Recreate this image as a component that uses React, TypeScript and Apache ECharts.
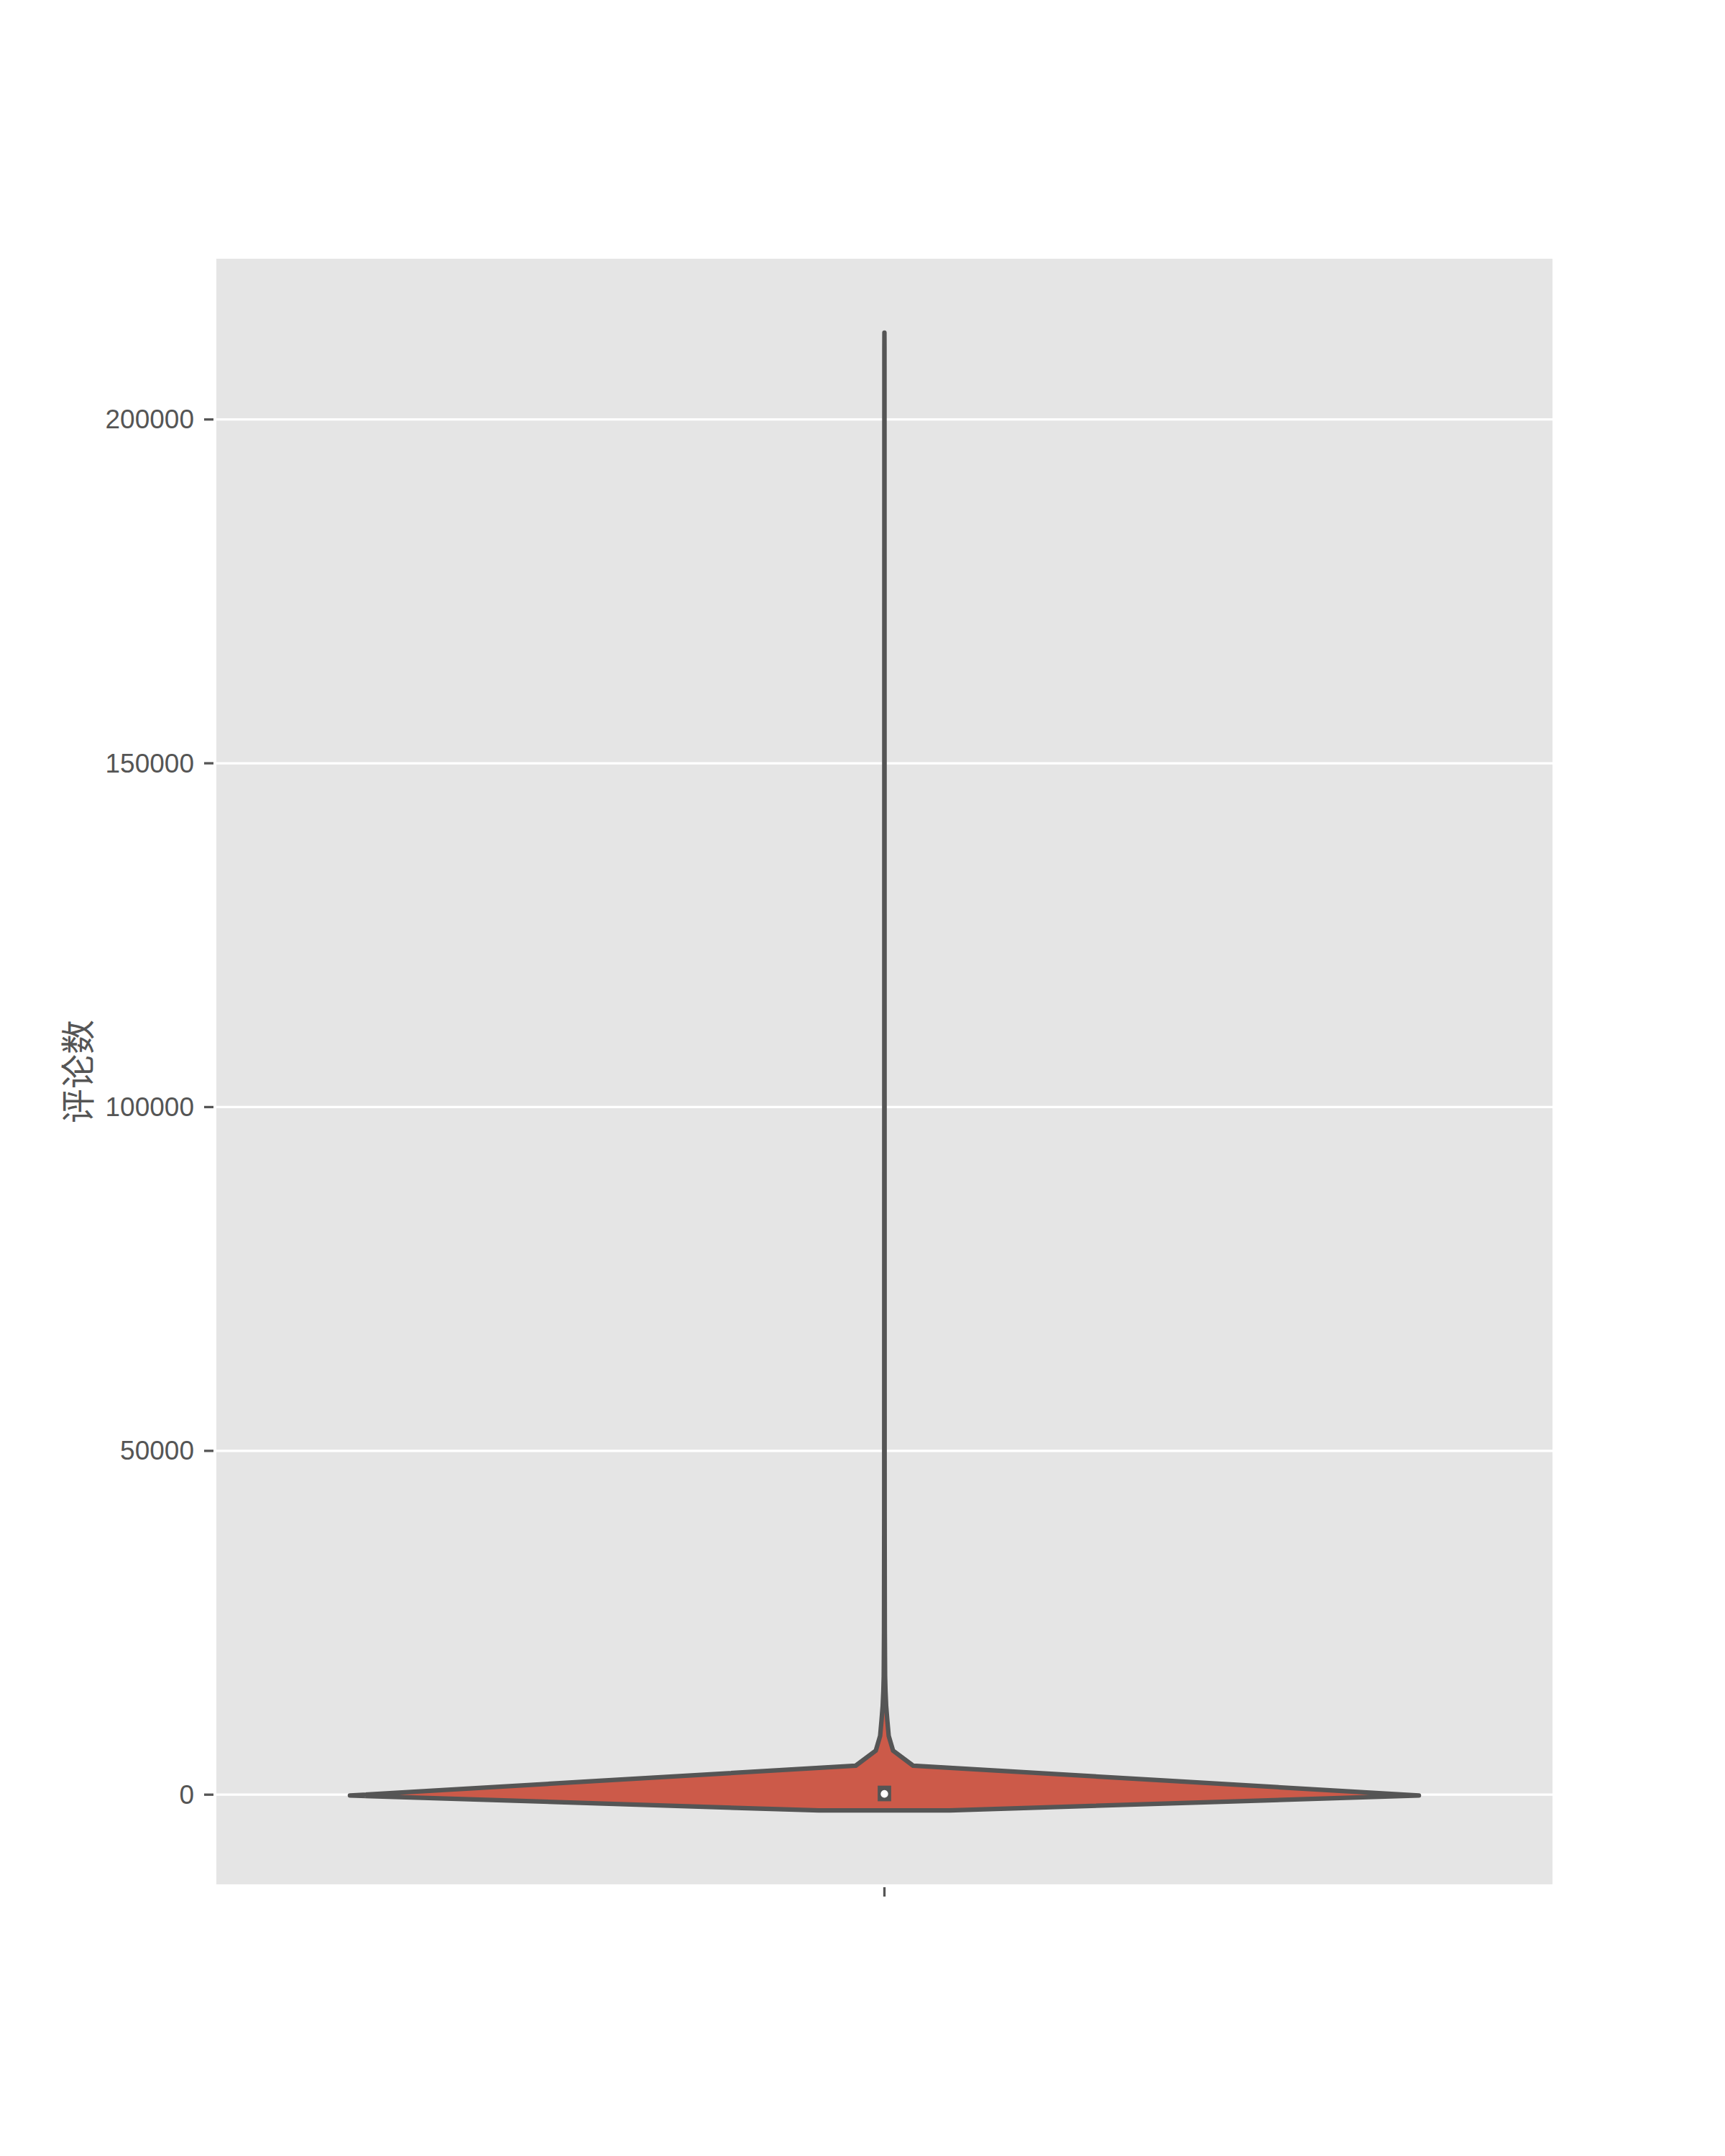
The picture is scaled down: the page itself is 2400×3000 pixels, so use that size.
import React, { useEffect, useRef } from "react";
import * as echarts from "echarts";

// ---- data ----
const categories = [""];
const yTicks = [0, 50000, 100000, 150000, 200000];
const yMin = -13042;
const yMax = 223379;
const yAxisName = "评论数";

// violin outline: support values (comments) and half-widths (in category units, 0.4 = widest)
const violinValues = [
  -2296, -125, 2046, 4217, 6388, 8559, 10730, 12900, 15071, 17242, 23755, 41123, 106000, 180000,
  210462, 212633,
];
const violinHalfWidths = [
  0.049, 0.4, 0.211, 0.0215, 0.0065, 0.0032, 0.0022, 0.0013, 0.0008, 0.0005, 0.0003, 0.00016,
  0.0001, 0.00007, 0.00005, 0,
];

// inner box: q25, median, q75 and whisker ends
const quartiles = [20, 110, 330];
const whiskers = [0, 790];

const FILL = "#CC5A49";
const GRAY = "#555555";
const BG = "#E5E5E5";
const TICK_GAP = 4;
const TICK_LEN = 13;

export default function App() {
  const ref = useRef<HTMLDivElement>(null);

  useEffect(() => {
    document.body.style.margin = "0";
    if (!ref.current) return;
    const chart = echarts.init(ref.current, undefined, { renderer: "svg" });

    const renderItem = (params: any, api: any) => {
      const children: any[] = [];
      // gridlines (under the violin) and y ticks
      yTicks.forEach((t) => {
        const a = api.coord([-0.5, t]);
        const b = api.coord([0.5, t]);
        children.push({
          type: "line",
          shape: { x1: a[0], y1: a[1], x2: b[0], y2: b[1] },
          style: { stroke: "#FFFFFF", lineWidth: 3.3 },
          z2: 1,
        });
        children.push({
          type: "line",
          shape: {
            x1: a[0] - TICK_GAP,
            y1: a[1],
            x2: a[0] - TICK_GAP - TICK_LEN,
            y2: a[1],
          },
          style: { stroke: GRAY, lineWidth: 3.3 },
          z2: 1,
        });
      });
      // x tick at the category centre
      const xb = api.coord([0, yMin]);
      children.push({
        type: "line",
        shape: {
          x1: xb[0],
          y1: xb[1] + TICK_GAP,
          x2: xb[0],
          y2: xb[1] + TICK_GAP + TICK_LEN,
        },
        style: { stroke: GRAY, lineWidth: 3.3 },
        z2: 1,
      });
      // violin polygon
      const right = violinValues.map((v, i) => api.coord([violinHalfWidths[i], v]));
      const left = violinValues.map((v, i) => api.coord([-violinHalfWidths[i], v])).reverse();
      children.push({
        type: "polygon",
        shape: { points: [...right, ...left] },
        style: { fill: FILL, stroke: GRAY, lineWidth: 6.25, lineJoin: "round" },
        z2: 2,
      });
      // whisker
      const w1 = api.coord([0, whiskers[0]]);
      const w2 = api.coord([0, whiskers[1]]);
      children.push({
        type: "line",
        shape: { x1: w1[0], y1: w1[1], x2: w2[0], y2: w2[1] },
        style: { stroke: GRAY, lineWidth: 6.25, lineCap: "square" },
        z2: 3,
      });
      // box
      const p25 = api.coord([0, quartiles[0]]);
      const p50 = api.coord([0, quartiles[1]]);
      const p75 = api.coord([0, quartiles[2]]);
      const bw = 18.75;
      children.push({
        type: "rect",
        shape: {
          x: p50[0] - bw / 2,
          y: p75[1] - bw / 2,
          width: bw,
          height: p25[1] - p75[1] + bw,
        },
        style: { fill: GRAY },
        z2: 4,
      });
      // median dot
      children.push({
        type: "circle",
        shape: { cx: p50[0], cy: p50[1], r: 6.25 },
        style: { fill: "#FFFFFF", stroke: GRAY, lineWidth: 2 },
        z2: 5,
      });
      return { type: "group", children };
    };

    chart.setOption({
      animation: false,
      backgroundColor: "#FFFFFF",
      grid: {
        left: 301,
        right: 240,
        top: 360,
        bottom: 378,
        show: true,
        backgroundColor: BG,
        borderWidth: 0,
        containLabel: false,
      },
      xAxis: {
        type: "value",
        min: -0.5,
        max: 0.5,
        axisLine: { show: false },
        splitLine: { show: false },
        axisTick: { show: false },
        axisLabel: {
          show: true,
          customValues: [0],
          formatter: () => categories[0],
        },
      },
      yAxis: {
        type: "value",
        min: yMin,
        max: yMax,
        axisLine: { show: false },
        splitLine: { show: false },
        axisTick: { show: false },
        axisLabel: {
          customValues: yTicks,
          color: GRAY,
          fontSize: 37,
          fontFamily: "Liberation Sans, Arial, sans-serif",
          margin: 31,
          formatter: (v: number) => String(v),
        },
      },
      graphic: [
        {
          type: "text",
          x: 105,
          y: 1491,
          rotation: Math.PI / 2,
          style: {
            text: yAxisName,
            fill: GRAY,
            fontSize: 48,
            fontFamily: "Noto Sans CJK SC",
            align: "center",
            verticalAlign: "middle",
          },
        },
      ],
      series: [
        {
          type: "custom",
          renderItem,
          data: [[0, 0]],
          clip: false,
          silent: true,
        },
      ],
    });

    return () => chart.dispose();
  }, []);

  return <div ref={ref} style={{ width: 2400, height: 3000 }} />;
}
